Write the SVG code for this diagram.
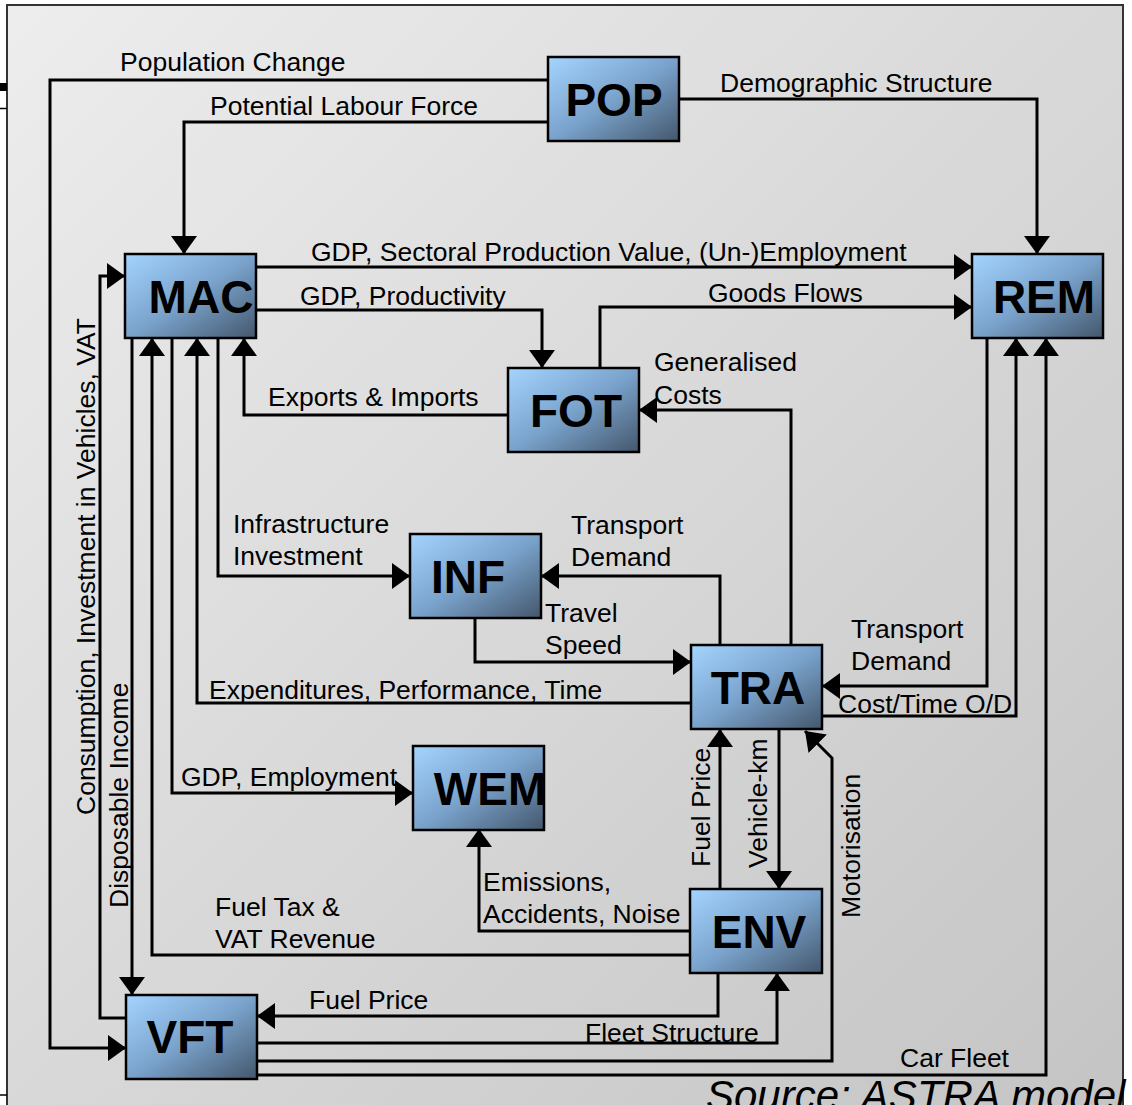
<svg xmlns="http://www.w3.org/2000/svg" width="1132" height="1105" viewBox="0 0 1132 1105">
<defs>
<linearGradient id="bg" x1="0" y1="0" x2="1" y2="1">
<stop offset="0" stop-color="#ededed"/>
<stop offset="1" stop-color="#c4c4c4"/>
</linearGradient>
<linearGradient id="nodeGrad" x1="0" y1="0" x2="1" y2="1">
<stop offset="0" stop-color="#a4d4ff"/>
<stop offset="0.5" stop-color="#7aa3cc"/>
<stop offset="1" stop-color="#44576c"/>
</linearGradient>
<marker id="ah" viewBox="0 0 18 26" refX="18" refY="13" markerWidth="18" markerHeight="26" markerUnits="userSpaceOnUse" orient="auto">
<path d="M0,0 L18,13 L0,26 z" fill="#000"/>
</marker>
</defs>
<style>
.node rect{fill:url(#nodeGrad);stroke:#000;stroke-width:2.5}
.node text{font-family:"Liberation Sans",Arial,sans-serif;font-weight:bold;font-size:46px;fill:#000;text-anchor:middle}
.conn path{fill:none;stroke:#000;stroke-width:3}
.arr{marker-end:url(#ah)}
.lbl{font-family:"Liberation Sans",Arial,sans-serif;font-size:26.5px;fill:#000}
</style>
<rect x="0" y="0" width="1132" height="1105" fill="#fff"/>
<rect x="7" y="5" width="1116" height="1110" fill="url(#bg)" stroke="#333" stroke-width="2"/>
<rect x="0" y="83" width="7" height="8" fill="#000"/>
<line x1="0" y1="108.5" x2="7" y2="108.5" stroke="#000" stroke-width="1.5"/>
<line x1="0" y1="1095" x2="7" y2="1095" stroke="#000" stroke-width="1.5"/>

<g id="connectors" class="conn">
<path class="arr" d="M548,80 H50 V1048 H126"/>
<path class="arr" d="M548,122 H184 V254"/>
<path class="arr" d="M679,99 H1037 V254"/>
<path class="arr" d="M256,267 H972"/>
<path class="arr" d="M256,310 H542 V368"/>
<path class="arr" d="M600,368 V307 H972"/>
<path class="arr" d="M508,415 H244 V338"/>
<path class="arr" d="M791,645 V410 H639"/>
<path class="arr" d="M218,338 V576 H410"/>
<path class="arr" d="M132,338 V995"/>
<path class="arr" d="M690,955 H152 V338"/>
<path class="arr" d="M172,338 V793 H413"/>
<path class="arr" d="M691,703 H197 V338"/>
<path class="arr" d="M126,1018 H100 V276 H125"/>
<path class="arr" d="M475,618 V662 H691"/>
<path class="arr" d="M720,645 V576 H541"/>
<path class="arr" d="M987,338 V686 H822"/>
<path class="arr" d="M822,716 H1016 V338"/>
<path class="arr" d="M257,1075 H1046 V338"/>
<path class="arr" d="M718,973 V1016 H257"/>
<path class="arr" d="M257,1043 H777 V973"/>
<path class="arr" d="M257,1061 H832 V758 L805,731"/>
<path class="arr" d="M720,889 V729"/>
<path class="arr" d="M779,729 V889"/>
<path class="arr" d="M690,931 H479 V829"/>
</g>

<g id="labels">
<text class="lbl" x="120" y="71">Population Change</text>
<text class="lbl" x="210" y="115">Potential Labour Force</text>
<text class="lbl" x="720" y="92">Demographic Structure</text>
<text class="lbl" x="311" y="261">GDP, Sectoral Production Value, (Un-)Employment</text>
<text class="lbl" x="300" y="305">GDP, Productivity</text>
<text class="lbl" x="708" y="302">Goods Flows</text>
<text class="lbl" x="654" y="371">Generalised</text>
<text class="lbl" x="654" y="404">Costs</text>
<text class="lbl" x="268" y="406">Exports &amp; Imports</text>
<text class="lbl" x="233" y="533">Infrastructure</text>
<text class="lbl" x="233" y="565">Investment</text>
<text class="lbl" x="571" y="534">Transport</text>
<text class="lbl" x="571" y="566">Demand</text>
<text class="lbl" x="545" y="622">Travel</text>
<text class="lbl" x="545" y="654">Speed</text>
<text class="lbl" x="851" y="638">Transport</text>
<text class="lbl" x="851" y="670">Demand</text>
<text class="lbl" x="209" y="699">Expenditures, Performance, Time</text>
<text class="lbl" x="838" y="713">Cost/Time O/D</text>
<text class="lbl" x="181" y="786">GDP, Employment</text>
<text class="lbl" x="483" y="891">Emissions,</text>
<text class="lbl" x="483" y="923">Accidents, Noise</text>
<text class="lbl" x="215" y="916">Fuel Tax &amp;</text>
<text class="lbl" x="215" y="948">VAT Revenue</text>
<text class="lbl" x="309" y="1009">Fuel Price</text>
<text class="lbl" x="585" y="1042">Fleet Structure</text>
<text class="lbl" x="900" y="1067">Car Fleet</text>
<text class="lbl" transform="translate(95,815) rotate(-90)">Consumption, Investment in Vehicles, VAT</text>
<text class="lbl" transform="translate(128,908) rotate(-90)">Disposable Income</text>
<text class="lbl" transform="translate(710,867) rotate(-90)">Fuel Price</text>
<text class="lbl" transform="translate(767,868) rotate(-90)">Vehicle-km</text>
<text class="lbl" transform="translate(860,918) rotate(-90)">Motorisation</text>
</g>

<g id="POP" class="node"><rect x="548" y="57" width="131" height="84"/><text x="614" y="116">POP</text></g>
<g id="MAC" class="node"><rect x="125" y="254" width="131" height="84"/><text x="201" y="313">MAC</text></g>
<g id="REM" class="node"><rect x="972" y="254" width="131" height="84"/><text x="1044" y="313">REM</text></g>
<g id="FOT" class="node"><rect x="508" y="368" width="131" height="84"/><text x="576" y="427">FOT</text></g>
<g id="INF" class="node"><rect x="410" y="534" width="131" height="84"/><text x="468" y="593">INF</text></g>
<g id="TRA" class="node"><rect x="691" y="645" width="131" height="84"/><text x="758" y="704">TRA</text></g>
<g id="WEM" class="node"><rect x="413" y="746" width="131" height="84"/><text x="490" y="805">WEM</text></g>
<g id="ENV" class="node"><rect x="690" y="889" width="132" height="84"/><text x="759" y="948">ENV</text></g>
<g id="VFT" class="node"><rect x="126" y="995" width="131" height="84"/><text x="190" y="1053">VFT</text></g>

<text x="706" y="1110" font-family="'Liberation Sans',Arial,sans-serif" font-style="italic" font-size="42" fill="#000">Source: ASTRA model</text>
</svg>
